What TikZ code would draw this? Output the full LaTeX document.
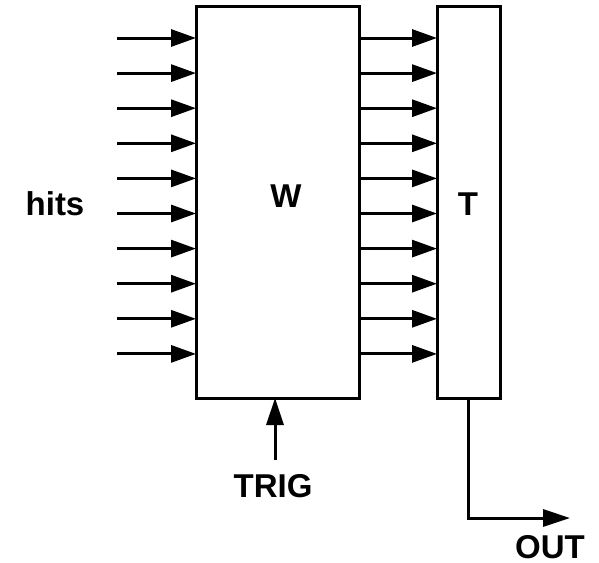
\documentclass[tikz,border=0pt]{standalone}
\usepackage{fontspec}
\setmainfont{Liberation Sans}
\usetikzlibrary{arrows.meta}
\begin{document}
\begin{tikzpicture}[x=1pt,y=-1pt,
  box/.style={draw,line width=3pt,inner sep=0pt,outer sep=0pt},
  lbl/.style={font=\fontsize{33}{40}\selectfont\bfseries,inner sep=0pt,anchor=base},
  sig/.style={line width=3pt,-{Triangle[length=25pt,width=17pt]}},
  sigl/.style={line width=3pt,-{Triangle[length=27pt,width=17pt]}}]
\useasboundingbox (0,0) rectangle (599,562);
\node[box,minimum width=163pt,minimum height=392pt] (W) at (277.5,202) {};
\node[box,minimum width=63pt,minimum height=392pt] (T) at (468.5,202) {};
\node[lbl] (wl) at (286,207) {W};
\node[lbl] (tl) at (468,215) {T};
\node[lbl] (hits) at (55,215) {hits};
\node[lbl] (trig) at (273,497) {TRIG};
\node[lbl] (out) at (550,558) {OUT};
\foreach \i in {0,...,9}{
  \coordinate (in\i) at (117,{38+35.1*\i});
  \draw[sig] (in\i) -- (W.west |- in\i);
  \draw[sig] (W.east |- in\i) -- (T.west |- in\i);
}
\coordinate (trigs) at (275,460);
\draw[sigl] (trigs) -- (W.south -| trigs);
\coordinate (bend) at (468,518);
\coordinate (oute) at (570,518);
\draw[sigl] (T.south -| bend) -- (bend) -- (oute);
\end{tikzpicture}
\end{document}
